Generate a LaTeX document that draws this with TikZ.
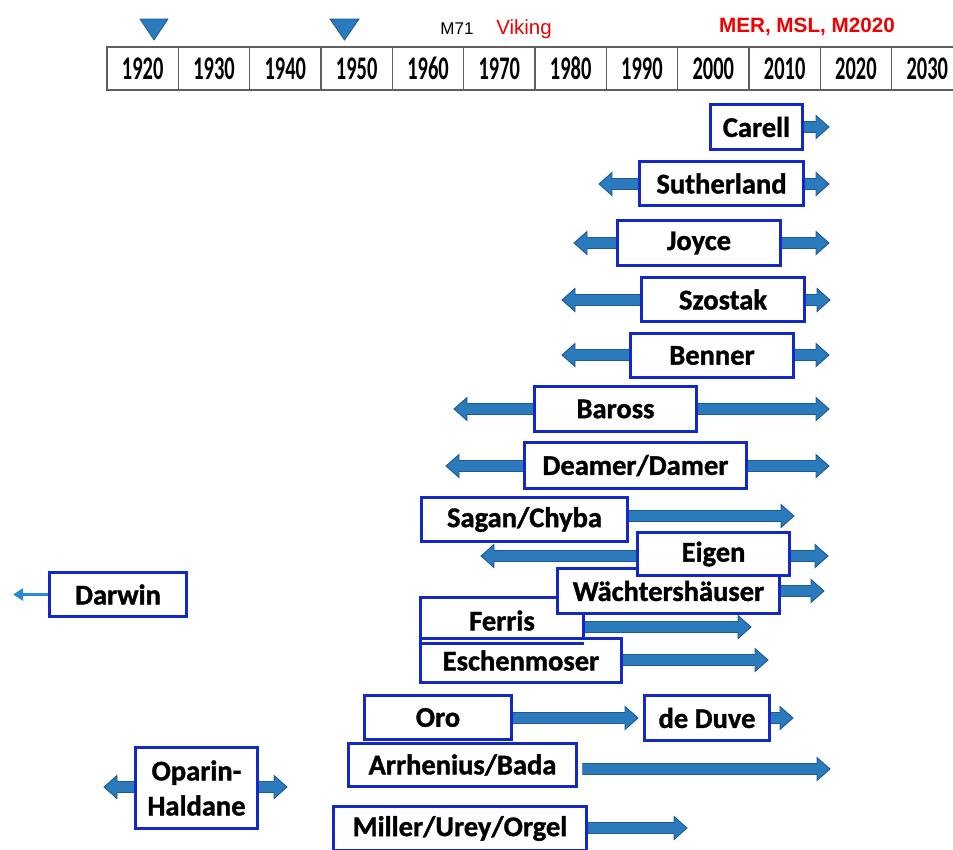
\documentclass[tikz,border=0pt]{standalone}
\usepackage{fontspec}
\setmainfont{Carlito}[BoldFeatures={FakeBold=1.2}]
\newfontfamily\yearfont[FakeStretch=0.62]{Carlito}
\newfontfamily\arialfont{Liberation Sans}
\usetikzlibrary{arrows.meta,calc,backgrounds}
\definecolor{boxblue}{RGB}{18,40,200}
\definecolor{arrowfill}{RGB}{43,122,188}
\definecolor{arrowedge}{RGB}{28,90,145}
\definecolor{thinblue}{RGB}{40,140,210}
\definecolor{mars}{RGB}{240,0,0}
\definecolor{cellline}{RGB}{95,95,95}
\tikzset{
  namebox/.style={draw=boxblue, line width=2.8pt, fill=white, inner sep=0pt, outer sep=0pt,
    font=\bfseries\fontsize{28.5}{35}\selectfont, align=center},
  blockarrow/.style={fill=arrowfill, draw=arrowedge, line width=0.9pt, line join=miter},
  yearcell/.style={draw=cellline, line width=1.1pt, inner sep=0pt, outer sep=0pt,
    minimum width=71.33pt, minimum height=43pt,
    font=\yearfont\bfseries\fontsize{33}{35}\selectfont},
  marker/.style={fill=arrowfill, draw=arrowedge, line width=0.8pt, line join=miter},
  thinarrow/.style={draw=thinblue, line width=3pt, -{Triangle[width=12pt,length=10pt]}},
}
\newcommand\tbox[6]{\node[namebox, minimum width={(#4-#2-2.5)*1pt}, minimum height={(#5-#3-2.5)*1pt}] (#1) at ({(#2+#4)/2},{(#3+#5)/2}) {#6};}
\newcommand\barrow[2]{%
  \draw[blockarrow] let \p1=#1, \p2=#2, \n1={sign(\x2-\x1)} in
   (\x1,\y2+5.5pt) -- (\x2-\n1*13pt,\y2+5.5pt) -- (\x2-\n1*13pt,\y2+11.5pt) -- (\x2,\y2)
   -- (\x2-\n1*13pt,\y2-11.5pt) -- (\x2-\n1*13pt,\y2-5.5pt) -- (\x1,\y2-5.5pt) -- cycle;}
\begin{document}
\begin{tikzpicture}[x=1pt,y=-1pt]
\useasboundingbox (0,0) rectangle (953,849);
\clip (0,0) rectangle (953,849);
% timeline
\foreach \yr [count=\i from 0] in {1920,1930,1940,1950,1960,1970,1980,1990,2000,2010,2020,2030}
  \node[yearcell] (y\yr) at ({107+71.33*\i+35.67},68.5) {\raisebox{-1pt}{\yr}};
\draw[marker] (140,19) -- (168,19) -- (154,40) -- cycle;
\draw[marker] (330,19) -- (359,19) -- (344.5,40) -- cycle;
\node[font=\arialfont\fontsize{17}{19}\selectfont, inner sep=0pt] (m71) at (457,29) {M71};
\node[font=\arialfont\fontsize{20.5}{22}\selectfont, text=mars, inner sep=0pt] (viking) at (524,29) {Viking};
\node[font=\arialfont\bfseries\fontsize{20.7}{22}\selectfont, text=mars, inner sep=0pt] (mer) at (807,27) {MER, MSL, M2020};
% boxes
\tbox{carell}{709}{103}{804}{151}{Carell}
\tbox{suth}{638}{160}{805}{207}{Sutherland}
\tbox{joyce}{616}{219}{782}{267}{Joyce}
\tbox{szostak}{640}{276}{806}{323}{Szostak}
\tbox{benner}{629}{332}{795}{379}{Benner}
\tbox{baross}{533}{385}{698}{433}{Baross}
\tbox{deamer}{523}{441}{748}{490}{Deamer/Damer}
\tbox{sagan}{420}{496}{629}{543}{Sagan/Chyba}
\tbox{ferris}{419}{596}{585}{645}{Ferris}
\tbox{eschen}{419}{637}{623}{684}{Eschenmoser}
\draw[boxblue, line width=2.8pt] (ferris.south west) -- (ferris.south east);
\tbox{waech}{556}{567}{781}{615}{Wächtershäuser}
\tbox{eigen}{636}{531}{791}{577}{Eigen}
\tbox{oro}{363}{694}{513}{741}{Oro}
\tbox{arrh}{347}{742}{578}{788}{Arrhenius/Bada}
\tbox{miller}{332}{805}{588}{852}{Miller/Urey/Orgel}
\tbox{deduve}{643}{694}{771}{742}{de Duve}
\tbox{darwin}{48}{571}{188}{618}{Darwin}
\tbox{oparin}{134}{746}{259}{830}{Oparin-\\Haldane}
% arrows
\begin{scope}[on background layer]
\barrow{(carell.east)}{(829,127)}
\barrow{(suth.west)}{(599,184)}
\barrow{(suth.east)}{(829,184)}
\barrow{(joyce.west)}{(574,243)}
\barrow{([xshift=-4pt]joyce.east)}{(829,243)}
\barrow{(szostak.west)}{(562,300)}
\barrow{(szostak.east)}{(830,300)}
\barrow{(benner.west)}{(562,355)}
\barrow{(benner.east)}{(829,355)}
\barrow{(baross.west)}{(454,409)}
\barrow{(baross.east)}{(829,409)}
\barrow{(deamer.west)}{(446,466)}
\barrow{(deamer.east)}{(829,466)}
\barrow{(sagan.east)}{(794,516)}
\barrow{(eigen.west)}{(481,556)}
\barrow{(eigen.east)}{(828,556)}
\barrow{(waech.east)}{(824,591)}
\barrow{(ferris.east)}{(751,627)}
\barrow{(eschen.east)}{(768,660)}
\barrow{(oro.east)}{(638,718)}
\barrow{(deduve.east)}{(793,718)}
\barrow{([xshift=6pt]arrh.east)}{(830,769)}
\barrow{([xshift=1pt]miller.east)}{(687,828)}
\barrow{(oparin.west)}{(104,787)}
\barrow{(oparin.east)}{(287,787)}
\coordinate (darwintip) at (13,594.5);
\draw[thinarrow] (darwin.west) -- (darwintip);
\end{scope}
\end{tikzpicture}
\end{document}
